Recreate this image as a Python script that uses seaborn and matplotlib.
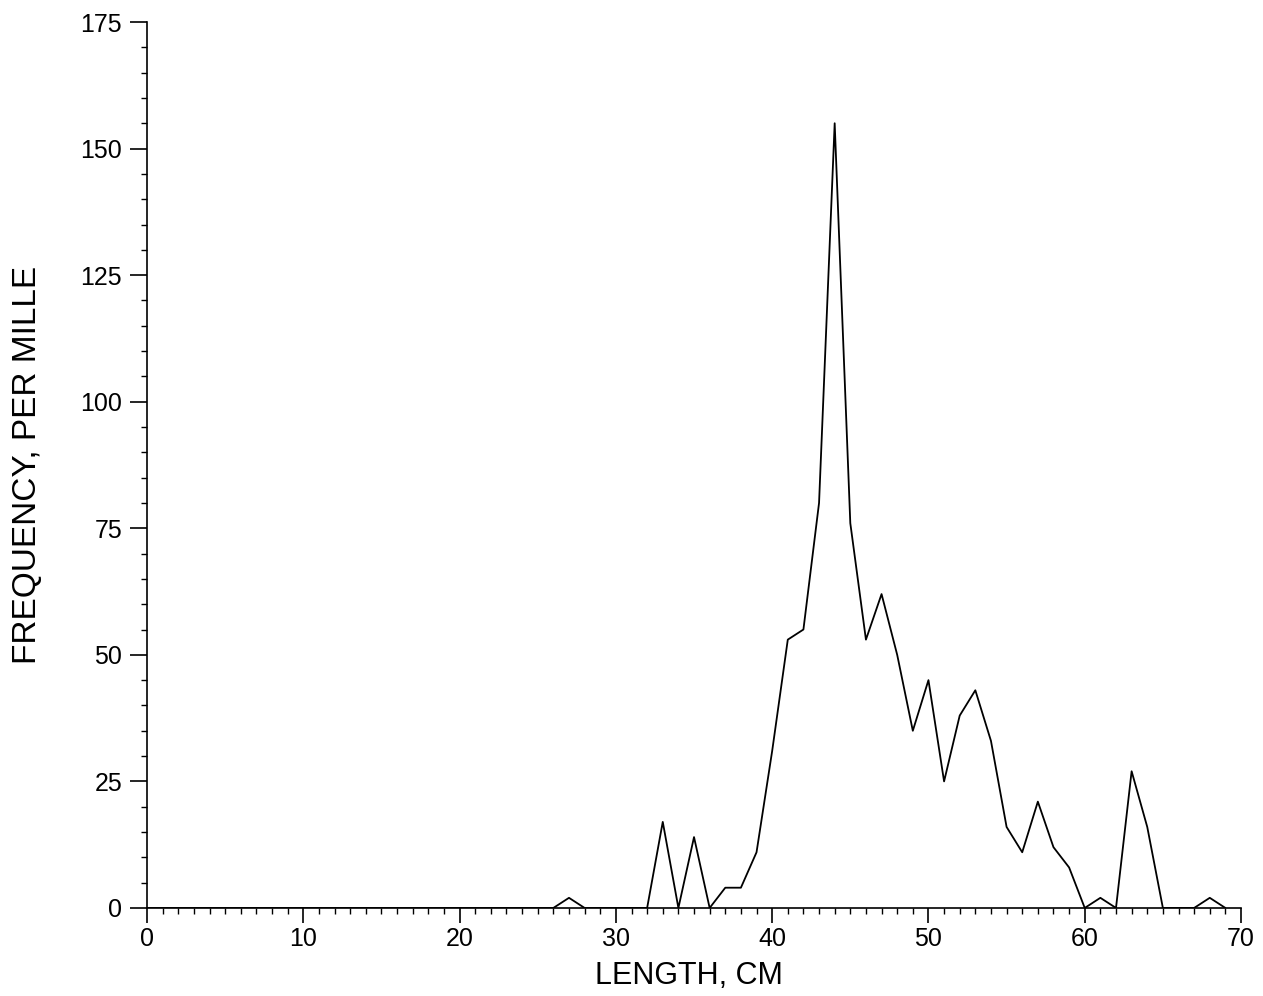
import matplotlib
matplotlib.use("Agg")
import matplotlib.pyplot as plt
from matplotlib.ticker import MultipleLocator
import seaborn as sns
import pandas as pd

length_cm = list(range(0, 70))
freq_per_mille = [0] * 27 + [2, 0, 0, 0, 0, 0, 17, 0, 14, 0, 4, 4, 11, 31, 53, 55, 80, 155,
                             76, 53, 62, 50, 35, 45, 25, 38, 43, 33, 16, 11, 21, 12, 8,
                             0, 2, 0, 27, 16, 0, 0, 0, 2, 0]
x_ticks = [0, 10, 20, 30, 40, 50, 60, 70]
y_ticks = [0, 25, 50, 75, 100, 125, 150, 175]

df = pd.DataFrame({"length": length_cm, "freq": freq_per_mille})

sns.set_theme(style="ticks")
plt.rcParams['font.family'] = ['Liberation Sans', 'DejaVu Sans']

fig = plt.figure(figsize=(12.63, 9.96), dpi=100)
ax = fig.add_axes([0.1164, 0.0884, 0.8662, 0.8895])

sns.lineplot(data=df, x="length", y="freq", ax=ax, color="black", linewidth=1.3)

ax.set_xlim(0, 70)
ax.set_ylim(0, 175)
ax.set_xticks(x_ticks)
ax.set_yticks(y_ticks)
ax.xaxis.set_minor_locator(MultipleLocator(1))
ax.yaxis.set_minor_locator(MultipleLocator(5))
ax.tick_params(axis="x", which="major", direction="out", length=11, width=1.2,
               labelsize=18, color="black", labelcolor="black", pad=3)
ax.tick_params(axis="y", which="major", direction="out", length=12.5, width=1.2,
               labelsize=18, color="black", labelcolor="black", pad=5.5)
ax.tick_params(axis="both", which="minor", direction="out", length=4, width=1.0, color="black")

for s in ["top", "right"]:
    ax.spines[s].set_visible(False)
for s in ["left", "bottom"]:
    ax.spines[s].set_color("black")
    ax.spines[s].set_linewidth(1.2)

ax.set_xlabel("LENGTH, CM", fontsize=22, color="black")
ax.set_ylabel("FREQUENCY, PER MILLE", fontsize=24, color="black")
ax.xaxis.set_label_coords(0.4954, -0.0595)
ax.yaxis.set_label_coords(-0.095, 0.5)

fig.savefig("out.png", dpi=100, facecolor="white")
